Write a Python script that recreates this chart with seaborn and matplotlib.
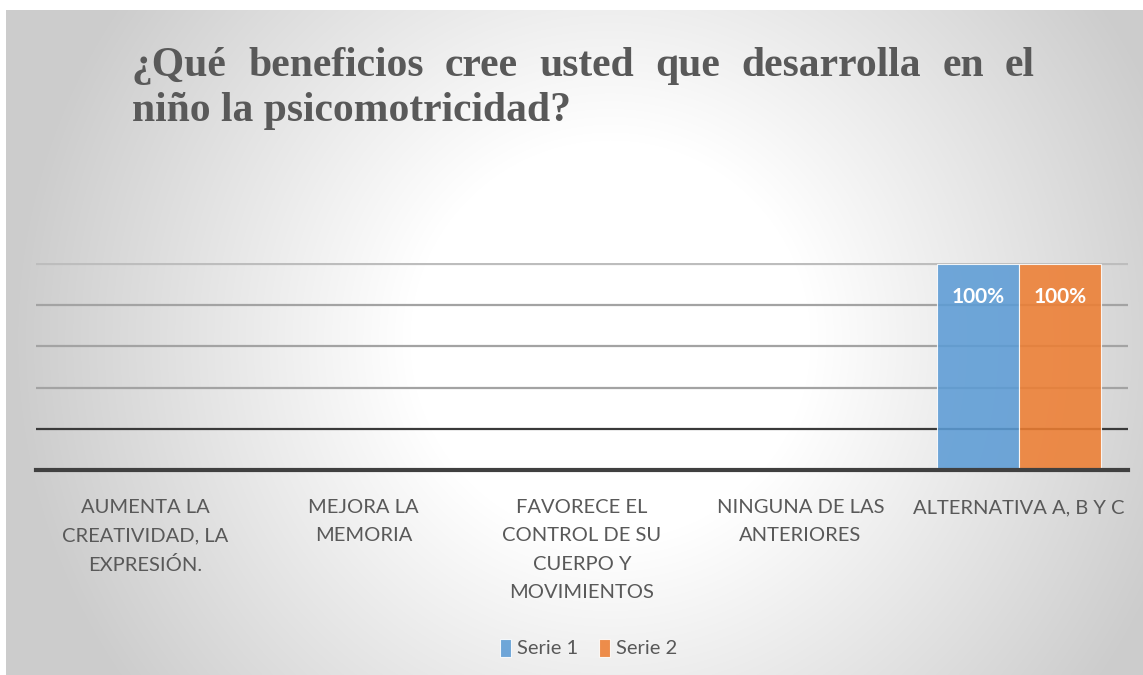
import numpy as np
import pandas as pd
import matplotlib
matplotlib.use("Agg")
from matplotlib import pyplot as plt
import seaborn as sns

categorias = [
    "AUMENTA LA\nCREATIVIDAD, LA\nEXPRESIÓN.",
    "MEJORA LA\nMEMORIA",
    "FAVORECE EL\nCONTROL DE SU\nCUERPO Y\nMOVIMIENTOS",
    "NINGUNA DE LAS\nANTERIORES",
    "ALTERNATIVA A, B Y C",
]
serie1 = [0, 0, 0, 0, 1.0]
serie2 = [0, 0, 0, 0, 1.0]
series = ["Serie 1", "Serie 2"]
colores = ["#5B9BD5", "#ED7D31"]
titulo1 = "¿Qué beneficios cree usted que desarrolla en el"
titulo2 = "niño la psicomotricidad?"

sns.set_style("white")
plt.rcParams["font.family"] = ["Lato", "DejaVu Sans"]

W, H = 1143, 675
fig = plt.figure(figsize=(W / 100, H / 100), dpi=100)

# radial grey background like the office chart style
yy, xx = np.mgrid[0:H, 0:W]
d = np.hypot(xx - 610, yy - 340)
v = 1 - 0.2 * np.clip((d - 200) / 400, 0, 1)
img = np.dstack([v, v, v])
img[:10, :, :] = 1
img[:, :6, :] = 1
bg = fig.add_axes([0, 0, 1, 1], zorder=-1)
bg.imshow(img, extent=[0, W, H, 0], aspect="auto")
bg.axis("off")

df = pd.DataFrame({
    "cat": categorias * 2,
    "valor": serie1 + serie2,
    "serie": [series[0]] * len(serie1) + [series[1]] * len(serie2),
})

ax = fig.add_axes([36 / W, 1 - 470 / H, (1128 - 36) / W, (470 - 263) / H])
ax.patch.set_alpha(0)
sns.barplot(data=df, x="cat", y="valor", hue="serie", palette=colores,
            saturation=1, width=0.75, alpha=0.87, edgecolor="white",
            linewidth=0.8, ax=ax)

ax.set_ylim(0, 1.005)
ax.set_yticks([0, 0.2, 0.4, 0.6, 0.8, 1.0])
ax.set_axisbelow(True)
ax.yaxis.grid(True)
grid_cols = ["none", "#3a3a3a", "#a3a3a3", "#a3a3a3", "#a3a3a3", "#bdbdbd"]
for gl, c in zip(ax.get_ygridlines(), grid_cols):
    gl.set_color(c)
    gl.set_linewidth(1.6)
for s in ["top", "left", "right"]:
    ax.spines[s].set_visible(False)
ax.spines["bottom"].set_color("#404040")
ax.spines["bottom"].set_linewidth(3)
ax.tick_params(axis="y", left=False, labelleft=False)
ax.tick_params(axis="x", length=0, pad=21, labelsize=14.5, labelcolor="#595959")
for t in ax.get_xticklabels():
    t.set_linespacing(1.8)
ax.set_xlabel("")
ax.set_ylabel("")

for cont in ax.containers:
    ax.bar_label(cont, fmt=lambda x: f"{x:.0%}" if x > 0 else "",
                 padding=-31, color="white", fontweight="bold", fontsize=15)

handles, labels = ax.get_legend_handles_labels()
ax.get_legend().remove()
fig.legend(handles, labels, loc="center", bbox_to_anchor=(0.515, 0.04),
           ncol=2, frameon=False, fontsize=14.5, labelcolor="#595959",
           handlelength=0.55, handleheight=1.0, handletextpad=0.3,
           columnspacing=1.0)

# title, first line justified like the original
tfont = dict(family=["Liberation Serif", "DejaVu Serif"], fontsize=30,
             fontweight="bold", color="#595959")
rend = fig.canvas.get_renderer()
palabras = titulo1.split(" ")
anchos = []
for p in palabras:
    t = fig.text(0, 0, p, **tfont)
    anchos.append(t.get_window_extent(rend).width)
    t.remove()
x0, x1 = 132, 1035
gap = (x1 - x0 - sum(anchos)) / (len(palabras) - 1)
x = x0
for p, w in zip(palabras, anchos):
    fig.text(x / W, 1 - 76 / H, p, va="baseline", ha="left", **tfont)
    x += w + gap
fig.text(x0 / W, 1 - 121 / H, titulo2, va="baseline", ha="left", **tfont)

fig.savefig("out.png", dpi=100)
